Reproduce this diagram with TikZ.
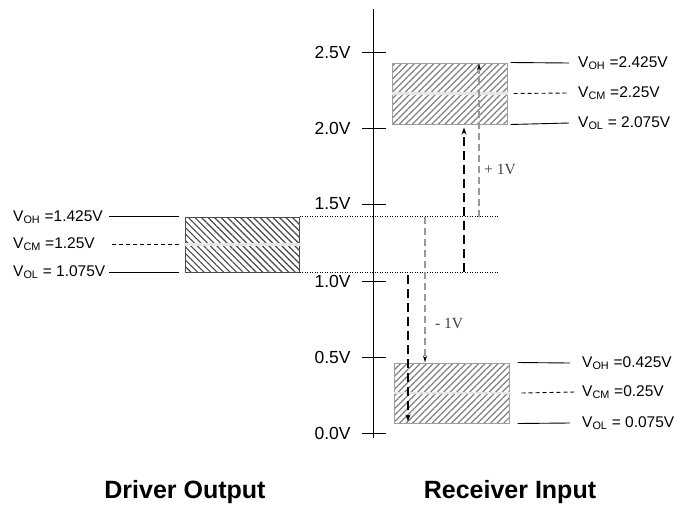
\documentclass[tikz,border=0pt]{standalone}
\usepackage{fontspec}
\setmainfont{Liberation Sans}
\newfontfamily\shiftfont{Liberation Serif}
\usetikzlibrary{patterns.meta,arrows.meta}

\tikzset{
  levelbox/.style={draw=gray!75, line width=1pt, minimum width=115pt, minimum height=61pt, inner sep=0pt,
    pattern={Lines[angle=45,distance=4.6pt,line width=1.2pt]}, pattern color=black!50},
  drvbox/.style={levelbox, draw=black!70, minimum width=114pt, minimum height=55pt,
    pattern={Lines[angle=-45,distance=4.6pt,line width=1.2pt]}, pattern color=black!72},
  cmline/.style={draw=gray!20, line width=2.4pt},
  levelline/.style={line width=0.9pt},
  cmdash/.style={line width=0.9pt, dash pattern=on 4pt off 3pt},
  limitline/.style={line width=0.9pt, dash pattern=on 1pt off 1.5pt},
  bigshift/.style={line width=1.8pt, dash pattern=on 9pt off 5pt, -{Stealth[length=7pt,width=5pt]}},
  smallshift/.style={gray!80, line width=1.2pt, dash pattern=on 7pt off 4pt, -{Stealth[length=7pt,width=4pt,color=black]}},
  axislabel/.style={left=11pt, inner sep=0pt, font=\fontsize{17.5}{20}\selectfont},
  levellabel/.style={anchor=west, inner sep=0pt, font=\fontsize{15.5}{18}\selectfont},
  shiftlabel/.style={anchor=west, inner sep=0pt, text=black!75, font=\shiftfont\fontsize{15.5}{18}\selectfont},
  sidetitle/.style={anchor=base, font=\bfseries\fontsize{25}{28}\selectfont}
}

\begin{document}
\begin{tikzpicture}[x=1pt,y=-1pt]
\useasboundingbox (0,0) rectangle (678,504);
% draw the voltage axis
\coordinate (axtop) at (373,9);
\coordinate (axbot) at (373,438);
\draw[line width=0.8pt] (axtop) -- (axbot);
% draw ticks and their labels
\foreach \v/\y [count=\i] in {2.5/52,2.0/128,1.5/204,1.0/281,0.5/357,0.0/433}
\draw[line width=0.8pt] (386,\y) -- (362,\y) node[axislabel] (axlab\i) {\v V};

% draw the driver output level
\node[drvbox] (drv) at (242,244.5) {};
\draw[cmline] (drv.west) -- (drv.east);
\node[levellabel] (drvoh) at (13,217) {V\textsubscript{OH} =1.425V};
\node[levellabel] (drvcm) at (13,244) {V\textsubscript{CM} =1.25V};
\node[levellabel] (drvol) at (13,272) {V\textsubscript{OL} = 1.075V};
\draw[levelline] ([xshift=-5pt]drv.north west) -- +(-70,0);
\draw[cmdash] ([xshift=-5pt]drv.west) -- +(-67,0);
\draw[levelline] ([xshift=-5pt]drv.south west) -- +(-70,0);
% draw dotted limits of the driver output
\draw[limitline] (drv.north east) -- ++(200,0);
\draw[limitline] (drv.south east) -- ++(200,0);

% draw the receiver input levels
\node[levelbox] (rxhigh) at (449.5,93.5) {};
\draw[cmline] (rxhigh.west) -- (rxhigh.east);
\node[levelbox, minimum height=60pt] (rxlow) at (451.5,393) {};
\draw[cmline] (rxlow.west) -- (rxlow.east);

\node[levellabel] (rxhoh) at (578,63) {V\textsubscript{OH} =2.425V};
\node[levellabel] (rxhcm) at (578,93) {V\textsubscript{CM} =2.25V};
\node[levellabel] (rxhol) at (578,123) {V\textsubscript{OL} = 2.075V};
\draw[levelline] ([xshift=3pt]rxhigh.north east) -- ([xshift=-9pt]rxhoh.west);
\draw[cmdash] ([xshift=6pt]rxhigh.east) -- ([xshift=-9pt]rxhcm.west);
\draw[levelline] ([xshift=3pt]rxhigh.south east) -- ([xshift=-9pt]rxhol.west);

\node[levellabel] (rxloh) at (582,363) {V\textsubscript{OH} =0.425V};
\node[levellabel] (rxlcm) at (582,392) {V\textsubscript{CM} =0.25V};
\node[levellabel] (rxlol) at (582,423) {V\textsubscript{OL} = 0.075V};
\draw[levelline] ([xshift=8pt]rxlow.north east) -- ([xshift=-12pt]rxloh.west);
\draw[cmdash] ([xshift=12pt]rxlow.east) -- ([xshift=-7pt]rxlcm.west);
\draw[levelline] ([xshift=8pt]rxlow.south east) -- ([xshift=-12pt]rxlol.west);

% draw the common mode shifts
\coordinate (upfrom) at (464,272);
\coordinate (upgray) at (479,217);
\coordinate (downgray) at (425,217);
\coordinate (downfrom) at (408,275);
\draw[bigshift, shorten >=3pt] (upfrom) -- (upfrom |- rxhigh.south);
\draw[smallshift, shorten >=1pt] (upgray) -- (upgray |- rxhigh.north);
\draw[smallshift] (downgray) -- (downgray |- rxlow.north);
\draw[bigshift, shorten >=2pt] (downfrom) -- (downfrom |- rxlow.south);
\node[shiftlabel] (plusone) at (484,169) {+ 1V};
\node[shiftlabel] (minusone) at (435,323) {- 1V};

% draw the titles
\node[sidetitle] (drvtitle) at (185,498) {Driver Output};
\node[sidetitle] (rxtitle) at (510,498) {Receiver Input};
\end{tikzpicture}
\end{document}
